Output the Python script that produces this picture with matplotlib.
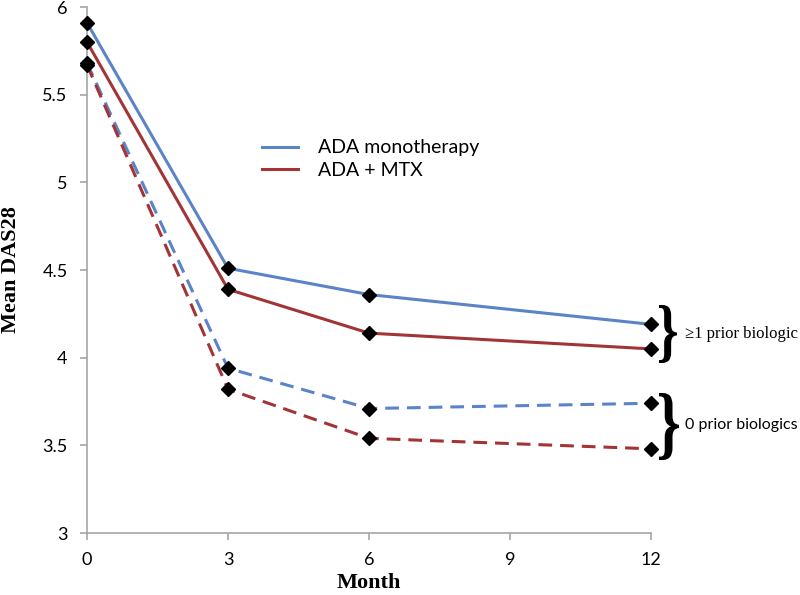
import matplotlib
matplotlib.use("Agg")
import matplotlib.pyplot as plt
from matplotlib.textpath import TextPath
from matplotlib.patches import PathPatch
from matplotlib.font_manager import FontProperties
from matplotlib.transforms import Affine2D

months = [0, 3, 6, 12]
mono_prior = [5.91, 4.51, 4.36, 4.19]
mtx_prior = [5.80, 4.39, 4.14, 4.05]
mono_naive = [5.68, 3.94, 3.71, 3.74]
mtx_naive = [5.67, 3.82, 3.54, 3.48]
x_ticks = [0, 3, 6, 9, 12]
y_ticks = [3, 3.5, 4, 4.5, 5, 5.5, 6]
y_tick_labels = ["3", "3.5", "4", "4.5", "5", "5.5", "6"]

blue = "#5B84C8"
red = "#A33436"
sans = ["Lato", "DejaVu Sans"]
serif = ["Liberation Serif", "DejaVu Serif"]

W, H = 800, 595
fig = plt.figure(figsize=(W / 100, H / 100), dpi=100)
ax = fig.add_axes([87 / W, 62 / H, 564 / W, 526 / H])

lw = 2.2
ms = 7.5
dash = (0, (4.5, 2.6))
ax.plot(months, mono_prior, color=blue, lw=lw, label="ADA monotherapy")
ax.plot(months, mtx_prior, color=red, lw=lw, label="ADA + MTX")
ax.plot(months, mono_naive, color=blue, lw=lw, linestyle=dash)
ax.plot(months, mtx_naive, color=red, lw=lw, linestyle=dash)
for s in (mono_prior, mtx_prior, mono_naive, mtx_naive):
    ax.plot(months, s, linestyle="none", marker="D", color="black", ms=ms, zorder=5,
            clip_on=False)

ax.set_xlim(0, 12)
ax.set_ylim(3, 6)
ax.set_xticks(x_ticks)
ax.set_xticklabels([str(v) for v in x_ticks], fontfamily=sans, fontsize=13)
ax.set_yticks(y_ticks)
ax.set_yticklabels(y_tick_labels, fontfamily=sans, fontsize=13)
for sp in ("top", "right"):
    ax.spines[sp].set_visible(False)
for sp in ("left", "bottom"):
    ax.spines[sp].set_color("#A6A6A6")
    ax.spines[sp].set_linewidth(1.2)
ax.tick_params(colors="#A6A6A6", labelcolor="black", length=5, width=1.2)
ax.tick_params(axis="x", pad=9)
ax.tick_params(axis="y", pad=9)

ax.set_xlabel("Month", fontfamily=serif, fontweight="bold", fontsize=16)
ax.xaxis.set_label_coords(0.5, -(573 - 533) / 526)
ax.set_ylabel("Mean DAS28", fontfamily=serif, fontweight="bold", fontsize=16)
ax.yaxis.set_label_coords(-(87 - 21) / 564, 0.5)

ax.legend(loc="upper left", bbox_to_anchor=(0.297, 0.763), frameon=False,
          prop={"family": sans, "size": 14}, handlelength=1.85, handletextpad=1.0,
          labelspacing=0.3, borderaxespad=0)


def brace(x0, x1, ytop, ybot):
    fp = FontProperties(family="Liberation Serif", weight="bold")
    tp = TextPath((0, 0), "}", size=100, prop=fp)
    ext = tp.get_extents()
    sx = (x1 - x0) / ext.width
    sy = (ybot - ytop) / ext.height
    tr = (Affine2D().translate(-ext.x0, -ext.y0).scale(sx / W, sy / H)
          .translate(x0 / W, 1 - ybot / H))
    p = PathPatch(tr.transform_path(tp), facecolor="black", edgecolor="none",
                  transform=fig.transFigure)
    fig.add_artist(p)


brace(659, 677, 305, 363)
fig.text(685 / W, 1 - 334 / H, "\u22651 prior biologic", fontsize=12, fontfamily=serif,
         ha="left", va="center")
brace(659, 679, 393, 460)
fig.text(685 / W, 1 - 425 / H, "0 prior biologics", fontsize=11.5, fontfamily=sans,
         ha="left", va="center")

fig.savefig("out.png", dpi=100)
